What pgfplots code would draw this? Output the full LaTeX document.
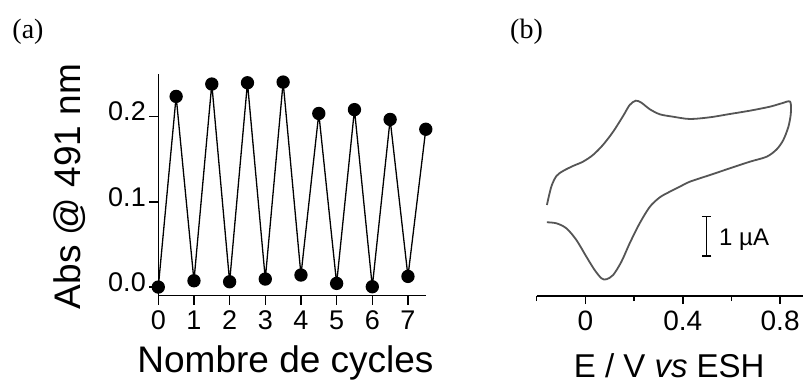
\documentclass[border=0pt]{standalone}
\usepackage{fontspec}
\setmainfont{Liberation Sans}
\newfontfamily\serif{Liberation Serif}
\usepackage{pgfplots}
\pgfplotsset{compat=1.18}
\usetikzlibrary{arrows.meta}
\definecolor{cvgray}{RGB}{85,85,85}

\begin{document}
\begin{tikzpicture}[x=1pt,y=1pt]
\path[use as bounding box] (0,0) rectangle (803,383);
\node[anchor=base, inner sep=0, font=\serif\fontsize{28}{32}\selectfont] at (28,344.8) {(a)};
\node[anchor=base, inner sep=0, font=\serif\fontsize{28}{32}\selectfont] at (526.5,344.8) {(b)};

% (a) absorbance over cycles
\begin{axis}[
  at={(158.3pt,87.4pt)}, anchor=south west, scale only axis,
  width=267.5pt, height=221.8pt,
  xmin=0, xmax=7.5, ymin=-0.01, ymax=0.25,
  axis x line*=bottom, axis y line*=left,
  axis line style={line width=1.5pt},
  tick style={line width=1.5pt, black},
  tick align=outside, major tick length=9pt,
  xtick={0,1,2,3,4,5,6,7}, ytick={0,0.1,0.2},
  /pgf/number format/assume math mode=true,
  yticklabel style={/pgf/number format/.cd, fixed, fixed zerofill, precision=1, /tikz/.cd, yshift=5pt},
  xticklabel style={yshift=-3pt},
  tick label style={font=\fontsize{27}{30}\selectfont},
  xlabel={Nombre de cycles}, ylabel={Abs @ 491 nm},
  xlabel style={font=\fontsize{37}{40}\selectfont, at={(axis description cs:0.4755,-0.3476)}, anchor=base},
  ylabel style={font=\fontsize{37}{40}\selectfont, at={(axis description cs:-0.2927,0.492)}, anchor=base},
  clip=false,
]
\addplot[black, line width=1.3pt, mark=*, mark size=6pt, mark options={fill=black}] coordinates {
  (0,0.000) (0.5,0.2235) (1,0.0074) (1.5,0.238) (2,0.0062) (2.5,0.2395)
  (3,0.0094) (3.5,0.2403) (4,0.0141) (4.5,0.2035) (5,0.0043) (5.5,0.208)
  (6,0.0004) (6.5,0.1965) (7,0.0125) (7.5,0.185)
};
\end{axis}

% (b) cyclic voltammogram
\begin{axis}[
  at={(536.7pt,87pt)}, anchor=south west, scale only axis,
  width=266.3pt, height=206pt,
  xmin=-0.2, xmax=0.894, ymin=0, ymax=5.061,
  axis x line*=bottom, axis y line=none, ytick=\empty,
  axis line style={line width=1.5pt},
  tick style={line width=1.5pt, black},
  tick align=outside, major tick length=8pt, minor tick length=5pt,
  xtick={0,0.4,0.8}, xticklabels={0,0.4,0.8},
  minor xtick={-0.2,0.2,0.6},
  xticklabel style={yshift=-3pt},
  tick label style={font=\fontsize{28}{30}\selectfont},
  xlabel={E / V \textit{vs} ESH},
  xlabel style={font=\fontsize{33}{36}\selectfont, at={(axis description cs:0.4976,-0.3956)}, anchor=base},
  clip=false,
]
\addplot[cvgray, line width=1.8pt, smooth, tension=0.5] coordinates {
  (-0.158,2.236) (-0.140,2.686) (-0.119,2.948) (-0.092,3.071) (-0.051,3.194)
  (-0.010,3.300) (0.031,3.464) (0.072,3.710) (0.114,4.037) (0.155,4.423)
  (0.182,4.693) (0.207,4.799) (0.230,4.749) (0.265,4.587) (0.306,4.464)
  (0.360,4.405) (0.429,4.349) (0.512,4.391) (0.594,4.472) (0.676,4.553)
  (0.758,4.651) (0.807,4.735) (0.841,4.774) (0.844,4.489) (0.834,4.160)
  (0.813,3.833) (0.786,3.604) (0.745,3.423) (0.676,3.300) (0.594,3.138)
  (0.512,2.973) (0.429,2.808) (0.388,2.686) (0.347,2.563) (0.306,2.425)
  (0.265,2.194) (0.223,1.786) (0.182,1.295) (0.148,0.843) (0.114,0.516)
  (0.086,0.410) (0.066,0.435) (0.038,0.639) (0.004,0.966) (-0.037,1.376)
  (-0.078,1.663) (-0.119,1.786) (-0.158,1.811)
};
\draw[line width=1.5pt, {Bar[width=9.4pt]}-{Bar[width=9.4pt]}] (axis cs:0.498,0.966) -- (axis cs:0.498,1.966);
\node[anchor=base west, inner sep=0, font=\fontsize{24}{26}\selectfont] at (axis cs:0.549,1.229) {1 µA};
\end{axis}
\end{tikzpicture}
\end{document}
